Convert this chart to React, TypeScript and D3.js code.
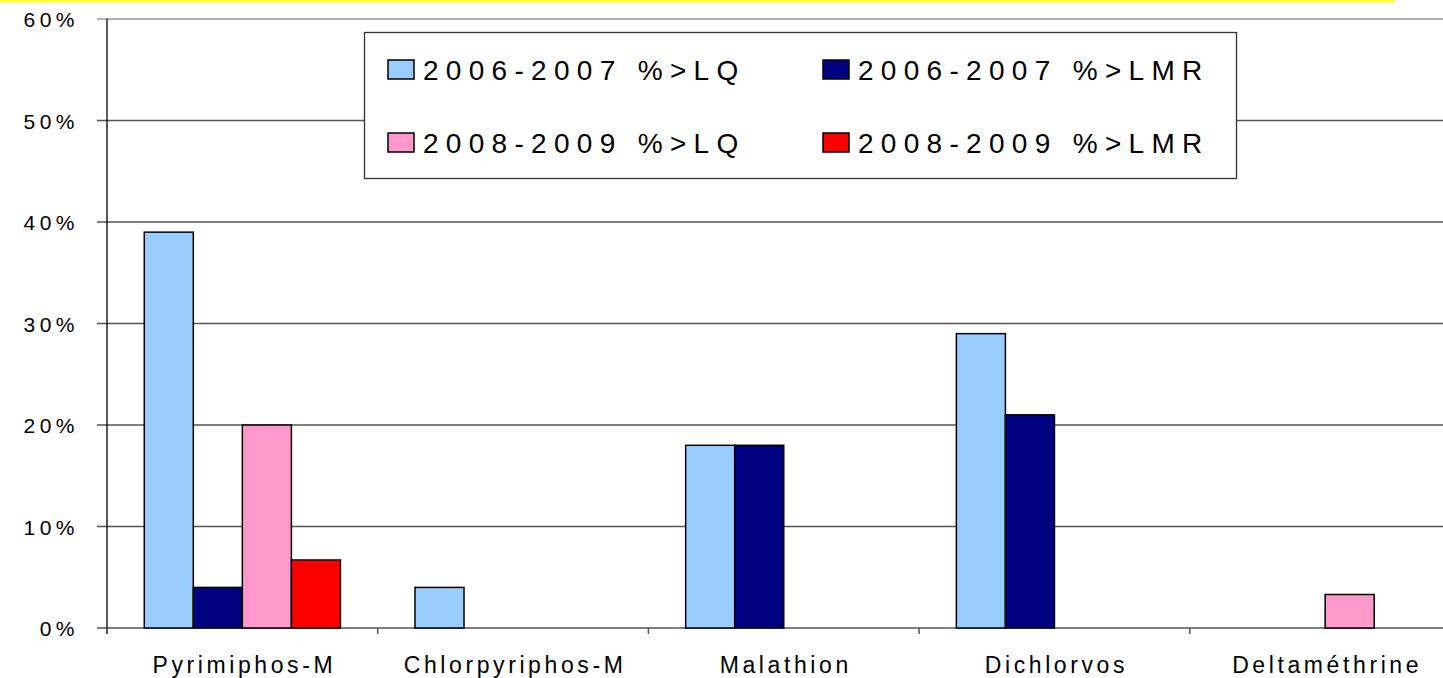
import React from "react";
import * as d3 from "d3";

const categories = ["Pyrimiphos-M", "Chlorpyriphos-M", "Malathion", "Dichlorvos", "Deltaméthrine"];
const seriesNames = ["2006-2007 %>LQ", "2006-2007 %>LMR", "2008-2009 %>LQ", "2008-2009 %>LMR"];
const lq2006 = [0.39, 0.04, 0.18, 0.29, 0];
const lmr2006 = [0.04, 0, 0.18, 0.21, 0];
const lq2008 = [0.2, 0, 0, 0, 0.033];
const lmr2008 = [0.067, 0, 0, 0, 0];
const yTicks = [0, 0.1, 0.2, 0.3, 0.4, 0.5, 0.6];
const colors = ["#99CCFF", "#000080", "#FF99CC", "#FF0000"];

const W = 1443;
const H = 678;
const FONT = "'Liberation Sans', Arial, sans-serif";

export default function App() {
  const values = [lq2006, lmr2006, lq2008, lmr2008];
  const left = 107;
  const step = 270.7;
  const x0 = d3.scaleBand<string>().domain(categories).range([left, left + step * categories.length]).padding(0);
  const x1 = d3.scaleBand<string>().domain(seriesNames).range([0, x0.bandwidth()]).paddingInner(0).paddingOuter(0.76);
  const y = d3.scaleLinear().domain([0, 0.6]).range([628, 19]);
  const fmt = d3.format(".0%");

  const bars: React.ReactNode[] = [];
  categories.forEach((c, ci) => {
    seriesNames.forEach((s, si) => {
      const v = values[si][ci];
      if (v <= 0) return;
      const bx = (x0(c) ?? 0) + (x1(s) ?? 0);
      bars.push(
        <rect key={`${c}-${s}`} x={bx} y={y(v)} width={x1.bandwidth()} height={y(0) - y(v)}
          fill={colors[si]} stroke="#000" strokeWidth={1.5} />
      );
    });
  });

  const legendCols = [388, 823];
  const legendRows = [60, 133];

  return (
    <svg width={W} height={H} style={{ position: "absolute", left: 0, top: 0, background: "#fff" }}
      fontFamily={FONT}>
      <rect x={0} y={0} width={1395} height={2.5} fill="#FFFF33" />
      {yTicks.map((t) => (
        <g key={t}>
          <line x1={97} x2={W} y1={y(t)} y2={y(t)} stroke={t === 0.6 ? "#999" : "#555"} strokeWidth={1.5} />
          <text x={79} y={y(t) + 8} textAnchor="end" fontSize={21} letterSpacing={4.5} fill="#000">{fmt(t)}</text>
        </g>
      ))}
      <line x1={left} x2={left} y1={19} y2={634} stroke="#000" strokeWidth={1.3} />
      {categories.map((c) => (
        <line key={c} x1={x0(c)} x2={x0(c)} y1={628} y2={634} stroke="#555" strokeWidth={1.5} />
      ))}
      {bars}
      {categories.map((c) => (
        <text key={c} x={(x0(c) ?? 0) + x0.bandwidth() / 2 + 2} y={673} textAnchor="middle" fontSize={23}
          letterSpacing={3.6} fill="#000">{c}</text>
      ))}
      <rect x={364.5} y={32.5} width={872} height={146} fill="#fff" stroke="#333" strokeWidth={1.3} />
      {seriesNames.map((s, i) => {
        const lx = legendCols[i % 2];
        const ly = legendRows[Math.floor(i / 2)];
        return (
          <g key={s}>
            <rect x={lx} y={ly} width={26} height={19} fill={colors[i]} stroke="#000" strokeWidth={1.5} />
            <text x={lx + 35} y={ly + 20} fontSize={28} letterSpacing={7.3} fill="#000">{s}</text>
          </g>
        );
      })}
    </svg>
  );
}
